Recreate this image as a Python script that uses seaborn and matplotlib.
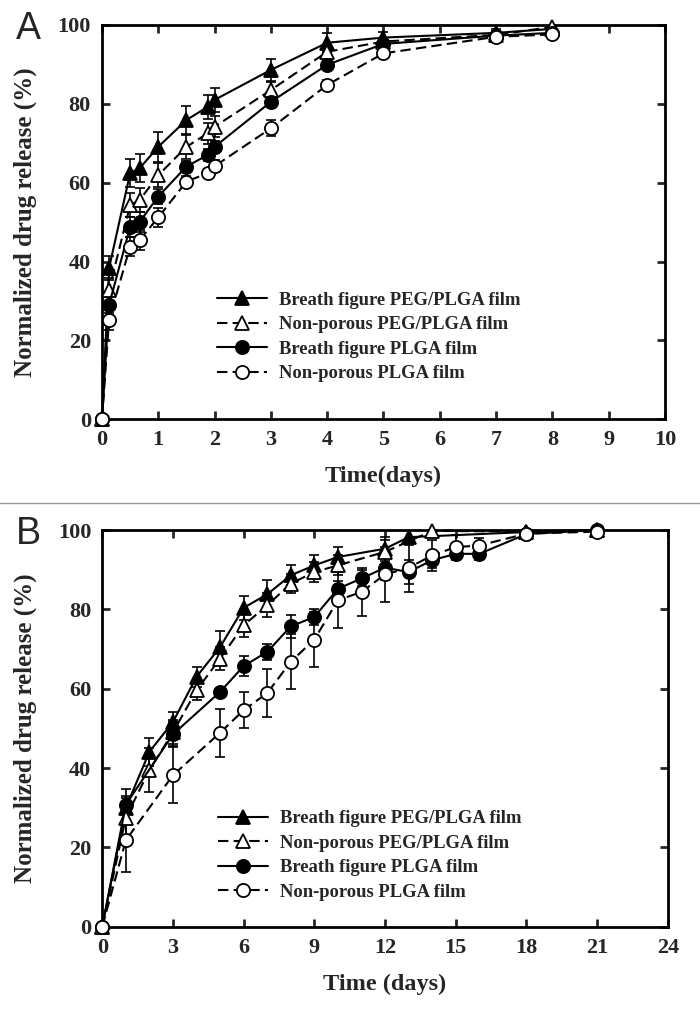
import numpy as np
import matplotlib
matplotlib.use("Agg")
import matplotlib.pyplot as plt
from matplotlib.lines import Line2D
import seaborn as sns

# ---- panel A data (days, % released, error) ----
t_a = [0, 0.125, 0.5, 0.67, 1, 1.5, 1.875, 2, 3, 4, 5, 7, 8]
bf_peg_a = [0, 38.3, 62.4, 63.7, 69.1, 75.9, 79.2, 81.0, 88.6, 95.5, 96.8, 98.0, 99.0]
bf_peg_a_err = [0, 3, 3.5, 3.5, 3.8, 3.5, 3.1, 3.0, 2.7, 2.4, 1.5, 1.0, 0.5]
np_peg_a = [0, 32.8, 54.3, 55.6, 61.9, 69.1, 72.5, 74.2, 83.5, 93.2, 95.8, 97.5, 99.5]
np_peg_a_err = [0, 3, 3, 3, 3, 3, 2.7, 2.7, 2.1, 1.5, 1.0, 1.0, 0.5]
bf_plga_a = [0, 29.0, 48.8, 50.1, 56.5, 64.1, 67.0, 69.1, 80.5, 89.9, 95.2, 97.3, 98.0]
bf_plga_a_err = [0, 2, 2.5, 2.5, 2, 1.5, 1.5, 1.5, 1.2, 1.0, 1.0, 0.8, 0.5]
np_plga_a = [0, 25.2, 43.8, 45.5, 51.2, 60.3, 62.4, 64.2, 73.8, 84.8, 92.8, 97.0, 97.6]
np_plga_a_err = [0, 2.5, 2.5, 2.5, 2.5, 1.5, 1.2, 1.5, 2, 1.2, 1.0, 0.8, 0.5]

# ---- panel B data ----
t_b_bfpeg = [0, 1, 2, 3, 4, 5, 6, 7, 8, 9, 10, 12, 13, 18, 21]
bf_peg_b = [0, 30, 44.1, 51.6, 63, 70.5, 80.4, 83.8, 88.6, 91.1, 93.2, 95.3, 98.2, 99.5, 100]
bf_peg_b_err = [0, 3, 3.5, 2.5, 2.5, 4, 3, 3.5, 2.5, 2.5, 2.5, 3, 2, 0.5, 0.3]
t_b_nppeg = [0, 1, 2, 3, 4, 5, 6, 7, 8, 9, 10, 12, 14, 18, 21]
np_peg_b = [0, 27.5, 39.5, 49, 59.6, 67.6, 76, 81, 86.5, 89.4, 91.1, 94.5, 99.8, 99.6, 100]
np_peg_b_err = [0, 5, 5.5, 3, 2.5, 3, 3, 3, 2.5, 2.5, 2.5, 3, 1, 0.5, 0.3]
t_b_plga = [0, 1, 3, 5, 6, 7, 8, 9, 10, 11, 12, 13, 14, 15, 16, 18, 21]
bf_plga_b = [0, 30.8, 48.5, 59.2, 65.7, 69.3, 75.7, 78.1, 85.2, 87.8, 90.5, 89.4, 92.4, 94, 94, 99, 100]
bf_plga_b_err = [0, 4, 3, 1, 2.5, 2, 3, 2, 2, 2, 3, 3, 2, 1.5, 1.5, 0.5, 0.3]
np_plga_b = [0, 21.8, 38.2, 48.9, 54.6, 58.9, 66.8, 72.4, 82.3, 84.4, 88.8, 90.5, 93.6, 95.7, 96.1, 99.1, 99.6]
np_plga_b_err = [0, 8, 7, 6, 4.5, 6, 7, 7, 7, 6, 7, 6, 4, 3, 2, 0.5, 0.3]

labels = ["Breath figure PEG/PLGA film", "Non-porous PEG/PLGA film",
          "Breath figure PLGA film", "Non-porous PLGA film"]

sns.set_style("ticks")
plt.rcParams["font.family"] = ["Liberation Serif", "DejaVu Serif"]
plt.rcParams["font.weight"] = "bold"
plt.rcParams["axes.labelweight"] = "bold"

DASH = (0, (5, 2.5))
estilos = [
    dict(marker="^", markerfacecolor="black", linestyle="-"),
    dict(marker="^", markerfacecolor="white", linestyle=DASH),
    dict(marker="o", markerfacecolor="black", linestyle="-"),
    dict(marker="o", markerfacecolor="white", linestyle=DASH),
]


def desenha_painel(ax, series, xmax, xstep, xlabel):
    for (t, v, e), lab, st in zip(series, labels, estilos):
        t = np.array(t); v = np.array(v); e = np.array(e)
        m = e > 0
        ax.errorbar(t[m], v[m], yerr=e[m], fmt="none", ecolor="black",
                    elinewidth=1.2, capsize=3.5, capthick=1.2, zorder=2)
        sns.lineplot(x=t, y=v, ax=ax, color="black", linewidth=1.5,
                     marker=st["marker"], markersize=9.5,
                     markerfacecolor=st["markerfacecolor"],
                     markeredgecolor="black", markeredgewidth=1.3,
                     linestyle=st["linestyle"], label=lab, sort=False,
                     errorbar=None, clip_on=False, zorder=3)
    ax.set_xlim(0, xmax)
    ax.set_ylim(0, 100)
    ax.set_xticks(np.arange(0, xmax + 0.1, xstep))
    ax.set_yticks(np.arange(0, 101, 20))
    ax.tick_params(direction="in", top=True, right=True, length=6, width=2,
                   labelsize=16, pad=8)
    for s in ax.spines.values():
        s.set_linewidth(2)
        s.set_color("black")
    ax.set_xlabel(xlabel, fontsize=17.5)
    ax.set_ylabel("Normalized drug release (%)", fontsize=18)
    ax.xaxis.set_label_coords(0.5, -0.118)
    ax.yaxis.set_label_coords(-0.115, 0.5)


fig = plt.figure(figsize=(7, 10.15), dpi=100)
ax_a = fig.add_axes([0.1457, 0.5869, 0.8043, 0.3885])
ax_b = fig.add_axes([0.1461, 0.0870, 0.8080, 0.3908])

desenha_painel(ax_a, [(t_a, bf_peg_a, bf_peg_a_err), (t_a, np_peg_a, np_peg_a_err),
                      (t_a, bf_plga_a, bf_plga_a_err), (t_a, np_plga_a, np_plga_a_err)],
               10, 1, "Time(days)")
desenha_painel(ax_b, [(t_b_bfpeg, bf_peg_b, bf_peg_b_err), (t_b_nppeg, np_peg_b, np_peg_b_err),
                      (t_b_plga, bf_plga_b, bf_plga_b_err), (t_b_plga, np_plga_b, np_plga_b_err)],
               24, 3, "Time (days)")

for ax, bx, by in [(ax_a, 0.204, 0.323), (ax_b, 0.205, 0.294)]:
    ax.legend(loc="upper left", bbox_to_anchor=(bx, by), frameon=False,
              fontsize=13.4, handlelength=2.7, handletextpad=0.62,
              labelspacing=0.4, borderpad=0, borderaxespad=0)

# separator line and panel letters
fig.add_artist(Line2D([0, 1], [1 - 503 / 1015, 1 - 503 / 1015],
                      transform=fig.transFigure, color="#999999", linewidth=1))
fig.text(16 / 700, 1 - 11 / 1015, "A", ha="left", va="top", fontsize=27,
         family="Liberation Sans", fontweight="normal")
fig.text(16 / 700, 1 - 516 / 1015, "B", ha="left", va="top", fontsize=27,
         family="Liberation Sans", fontweight="normal")

fig.savefig("out.png", dpi=100)
plt.close(fig)
